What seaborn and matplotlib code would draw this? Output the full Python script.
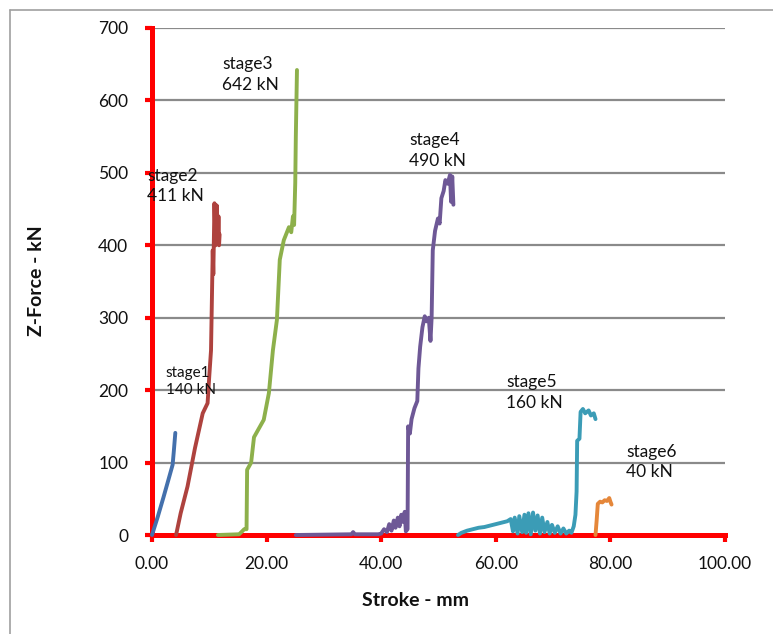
import pandas as pd
import numpy as np
import matplotlib
matplotlib.use("Agg")
import matplotlib.pyplot as plt
import seaborn as sns
from matplotlib.lines import Line2D

# stroke (mm) / z-force (kN)
s1_x = [0.0, 1.0, 2.0, 3.0, 3.6, 3.8, 4.07]
s1_y = [0, 25, 52, 80, 97, 115, 141]

s2_x = [4.2, 5.0, 6.2, 7.5, 8.85, 9.7, 10.0, 10.3, 10.6, 10.7, 10.9, 11.1, 11.3, 11.5, 11.6, 11.7, 11.8]
s2_y = [0, 30, 67, 120, 168, 182, 220, 255, 393, 360, 458, 400, 455, 405, 440, 400, 415]

s3_x = [11.5, 15.2, 15.6, 16.1, 16.5, 16.6, 17.3, 17.8, 19.5, 20.4, 21.1, 21.8, 22.3,
        23.0, 23.9, 24.3, 24.6, 24.8, 25.0, 25.1, 25.3]
s3_y = [0, 1, 4, 8, 8, 90, 100, 135, 159, 196, 255, 297, 380,
        407, 425, 418, 440, 428, 486, 550, 642]

s4_x = [25.1, 30.0, 34.8, 35.1, 35.4, 39.5, 40.0, 40.5, 41.0, 41.4, 41.8, 42.2, 42.5, 42.9,
        43.2, 43.5, 43.8, 44.1, 44.3, 44.6, 44.7, 45.0, 45.3, 45.8, 46.3, 46.5, 46.8, 47.2,
        47.6, 47.9, 48.3, 48.6, 48.8, 49.0, 49.4, 49.9, 50.2, 50.5, 50.9, 51.2, 51.6, 52.0,
        52.2, 52.4, 52.6]
s4_y = [0, 0.5, 1, 4, 1, 1, 2, 8, 4, 15, 6, 20, 10, 24,
        12, 28, 18, 32, 5, 8, 150, 140, 160, 175, 185, 230, 260, 287,
        302, 295, 300, 268, 300, 393, 420, 437, 430, 465, 475, 490, 485, 497,
        460, 495, 456]

s5_x = [53.4, 54.0, 55.0, 56.0, 57.0, 58.0, 59.0, 60.0, 61.0, 62.0, 62.6, 63.0, 63.3, 63.8,
        64.1, 64.6, 65.0, 65.3, 65.7, 66.1, 66.5, 66.9, 67.3, 67.7, 68.1, 68.5, 69.0, 69.4,
        69.8, 70.3, 70.8, 71.3, 71.8, 72.3, 72.8, 73.2, 73.6, 73.9, 74.1, 74.2, 74.6, 74.8,
        75.2, 75.6, 76.2, 76.6, 77.1, 77.4]
s5_y = [0, 3, 6, 8, 10, 11, 13, 15, 17, 19, 22, 5, 24, 2,
        26, 4, 28, 3, 30, 1, 31, 6, 27, 2, 24, 4, 18, 2,
        14, 3, 12, 2, 9, 2, 6, 3, 12, 28, 60, 130, 133, 170,
        174, 168, 172, 165, 168, 160]

s6_x = [77.4, 77.6, 77.8, 78.2, 78.6, 79.0, 79.4, 79.8, 80.0, 80.2]
s6_y = [0, 20, 43, 46, 45, 48, 47, 51, 46, 42]

stages = ["stage1", "stage2", "stage3", "stage4", "stage5", "stage6"]
peaks = ["140 kN", "411 kN", "642 kN", "490 kN", "160 kN", "40 kN"]
colors = ["#4470AC", "#AE423E", "#8DB04B", "#6E5896", "#3B9CB6", "#E5873A"]

xs = [s1_x, s2_x, s3_x, s4_x, s5_x, s6_x]
ys = [s1_y, s2_y, s3_y, s4_y, s5_y, s6_y]
df = pd.concat([pd.DataFrame({"stroke": x, "force": y, "stage": s})
                for x, y, s in zip(xs, ys, stages)], ignore_index=True)

sns.set_theme(style="white")
plt.rcParams['font.family'] = ['Lato', 'DejaVu Sans']

fig = plt.figure(figsize=(7.73, 6.34), dpi=100)
ax = fig.add_axes([152 / 773, 1 - 535 / 634, (725 - 152) / 773, (535 - 28) / 634])

sns.lineplot(data=df, x="stroke", y="force", hue="stage", palette=colors,
             sort=False, estimator=None, units="stage", linewidth=2.8,
             legend=False, ax=ax, zorder=4)
for ln in ax.lines:
    ln.set_clip_on(False)
    ln.set_solid_joinstyle("round")
    ln.set_solid_capstyle("round")

ax.set_xlim(0, 100)
ax.set_ylim(0, 700)
ax.set_xticks(np.arange(0, 101, 20))
ax.set_xticklabels([f"{v:.2f}" for v in range(0, 101, 20)])
ax.set_yticks(np.arange(0, 701, 100))

ax.yaxis.grid(True, color="#8a8a8a", linewidth=1.6)
ax.xaxis.grid(False)
ax.set_axisbelow(True)

for side in ["top", "right"]:
    ax.spines[side].set_visible(False)
for side in ["left", "bottom"]:
    ax.spines[side].set_color("#ff0000")
    ax.spines[side].set_linewidth(3.6)
    ax.spines[side].set_zorder(3)

ax.tick_params(axis="both", which="major", direction="out", length=5, width=3,
               color="#ff0000", labelsize=12.5, labelcolor="#111111",
               bottom=True, left=True)
ax.tick_params(axis="x", pad=10)
ax.tick_params(axis="y", pad=12)

ax.set_xlabel("")
ax.set_ylabel("")
fig.text(416 / 773, 1 - 601 / 634, "Stroke - mm", ha="center", va="center",
         fontsize=14, fontweight="bold", color="#111111")
fig.text(36 / 773, 1 - 281 / 634, "Z-Force - kN", ha="center", va="center",
         rotation=90, fontsize=14, fontweight="bold", color="#111111")

label_pos = [(2.4, 212), (-0.8, 482), (12.2, 636), (44.9, 531), (61.8, 197), (82.7, 101)]
label_size = [11, 12.5, 12.5, 12.5, 12.5, 12.5]
for st, pk, (lx, ly), fs in zip(stages, peaks, label_pos, label_size):
    ax.text(lx, ly, f"{st}\n{pk}", ha="left", va="center", fontsize=fs,
            color="#111111", linespacing=1.35, zorder=5, clip_on=False)

# chart-area frame (clipped at right and bottom in the reference)
fig.add_artist(Line2D([10 / 773, 10 / 773], [0, 1 - 10 / 634], color="#a0a0a0", linewidth=1.2))
fig.add_artist(Line2D([10 / 773, 1], [1 - 10 / 634, 1 - 10 / 634], color="#a0a0a0", linewidth=1.2))

fig.savefig("out.png", dpi=100)
